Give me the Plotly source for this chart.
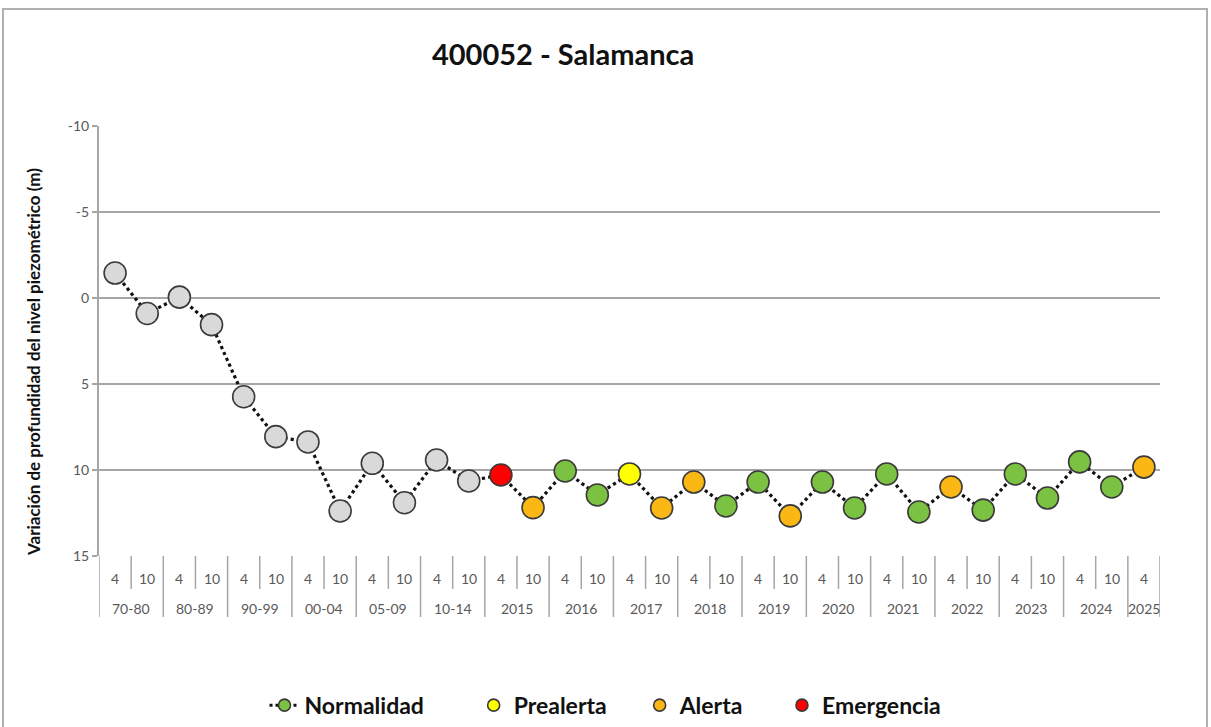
import plotly.graph_objects as go

# Periods on the lower axis level; each has April (4) and October (10) readings,
# except the last year which only has April so far.
periods = ["70-80", "80-89", "90-99", "00-04", "05-09", "10-14",
           "2015", "2016", "2017", "2018", "2019", "2020", "2021",
           "2022", "2023", "2024", "2025"]
months = ["4", "10"]

# Variation of piezometric depth (m), one per campaign
depth = [-1.45, 0.9, -0.05, 1.55, 5.74, 8.06, 8.37, 12.38, 9.61, 11.9,
         9.42, 10.64, 10.29, 12.19, 10.06, 11.45, 10.23, 12.21, 10.70, 12.09,
         10.70, 12.67, 10.70, 12.21, 10.23, 12.44, 10.99, 12.33, 10.23, 11.63,
         9.53, 10.99, 9.83]

# Drought status of each campaign ("H" = historical, no status)
status = ["H"] * 12 + ["E", "A", "N", "N", "P", "A", "A", "N", "N", "A",
                       "N", "N", "N", "N", "A", "N", "N", "N", "N", "N", "A"]

y_ticks = [-10, -5, 0, 5, 10, 15]
y_ticktext = ["-10", "-5", "0", "5", "10", "15"]

status_names = {"N": "Normalidad", "P": "Prealerta", "A": "Alerta", "E": "Emergencia"}
status_colors = {"H": "#d9d9d9", "N": "#7cc242", "P": "#ffff00",
                 "A": "#fbb814", "E": "#ff0000"}
# extra blank room after each legend label (non-breaking spaces)
legend_pad = {"N": 8, "P": 5, "A": 6, "E": 0}

# Two-level labels (period / month) for each campaign
lvl_period, lvl_month = [], []
for p in periods:
    for m in months:
        if len(lvl_period) < len(depth):
            lvl_period.append(p)
            lvl_month.append(m)
x_keys = [f"{p} · {m}" for p, m in zip(lvl_period, lvl_month)]
n = len(x_keys)

font_family = "Lato, 'Open Sans', sans-serif"
marker_line = dict(color="#3a3a3a", width=1.6)
msize = 22
grid_col = "#a6a6a6"
label_col = "#595959"

# Plot-area geometry in pixels, used to place the axis labels below it
plot_w, plot_h = 1061, 430
row1_px, row2_px = 22, 52
short_tick_px, long_tick_px = 33, 61

fig = go.Figure()

# Dotted connecting line through every campaign
fig.add_trace(go.Scatter(
    x=x_keys, y=depth, mode="lines",
    line=dict(color="#111111", width=3.2, dash="dot"),
    showlegend=False, hoverinfo="skip"))

# Markers coloured by status
for key in ["H", "N", "P", "A", "E"]:
    fig.add_trace(go.Scatter(
        x=x_keys, y=[v if s == key else None for v, s in zip(depth, status)],
        mode="markers", showlegend=False,
        name=status_names.get(key, ""),
        marker=dict(size=msize, color=status_colors[key], line=marker_line)))

# Legend entries
for key in ["N", "P", "A", "E"]:
    fig.add_trace(go.Scatter(
        x=[x_keys[0]], y=[None],
        mode="lines+markers" if key == "N" else "markers",
        name=status_names[key] + "\u00a0" * legend_pad[key],
        line=dict(color="#111111", width=3, dash="dot"),
        marker=dict(size=12, color=status_colors[key], line=marker_line)))

# Category labels and separators of the two-level horizontal axis
annotations = []
shapes = []
for i, m in enumerate(lvl_month):
    annotations.append(dict(x=i, y=-row1_px / plot_h, xref="x", yref="paper",
                            text=m, showarrow=False, yanchor="middle",
                            font=dict(size=14, color=label_col)))
for p in periods:
    idx = [i for i, q in enumerate(lvl_period) if q == p]
    annotations.append(dict(x=sum(idx) / len(idx), y=-row2_px / plot_h,
                            xref="x", yref="paper", text=p, showarrow=False,
                            yanchor="middle",
                            font=dict(size=14, color=label_col)))
for i in range(n + 1):
    edge = i == 0 or i == n or lvl_period[i] != lvl_period[i - 1]
    depth_px = long_tick_px if edge else short_tick_px
    shapes.append(dict(type="line", xref="x", yref="paper",
                       x0=i - 0.5, x1=i - 0.5, y0=0, y1=-depth_px / plot_h,
                       line=dict(color=grid_col, width=1.5)))

# Vertical axis title
annotations.append(dict(
    x=-66 / plot_w, y=194 / plot_h, xref="paper", yref="paper",
    text="<b>Variación de profundidad del nivel piezométrico (m)</b>",
    textangle=-90, showarrow=False, xanchor="center", yanchor="middle",
    font=dict(size=17, color="#111111")))

# Outer frame around the whole chart
shapes.append(dict(type="rect", xref="paper", yref="paper",
                   x0=-0.0905, x1=1.0443, y0=-0.45, y1=1.272,
                   line=dict(color="#b0b0b0", width=2),
                   fillcolor="rgba(0,0,0,0)", layer="below"))

fig.update_layout(
    width=1211, height=727,
    paper_bgcolor="white", plot_bgcolor="white",
    margin=dict(l=99, r=51, t=126, b=171, autoexpand=False),
    font=dict(family=font_family, color=label_col),
    title=dict(text="<b>400052 - Salamanca</b>", x=0.465, xanchor="center",
               y=0.924, yanchor="middle",
               font=dict(size=29, color="#111111", family=font_family)),
    showlegend=True,
    legend=dict(orientation="h", x=0.5, xanchor="center",
                xref="container", yref="container", y=0.03,
                yanchor="middle", font=dict(size=23, color="#111111",
                                            weight="bold"),
                traceorder="normal"),
    xaxis=dict(type="category", range=[-0.5, n - 0.5], showgrid=False,
               showticklabels=False, ticks="", showline=False,
               zeroline=False),
    yaxis=dict(range=[15, -10], tickvals=y_ticks, ticktext=y_ticktext,
               showgrid=True, gridcolor=grid_col, gridwidth=2,
               zeroline=False, showline=True, linecolor=grid_col, linewidth=2,
               ticks="outside", ticklen=5, tickcolor=grid_col, tickwidth=2,
               tickfont=dict(size=14, color=label_col)),
    annotations=annotations,
    shapes=shapes,
)

fig.write_html("out.html")
